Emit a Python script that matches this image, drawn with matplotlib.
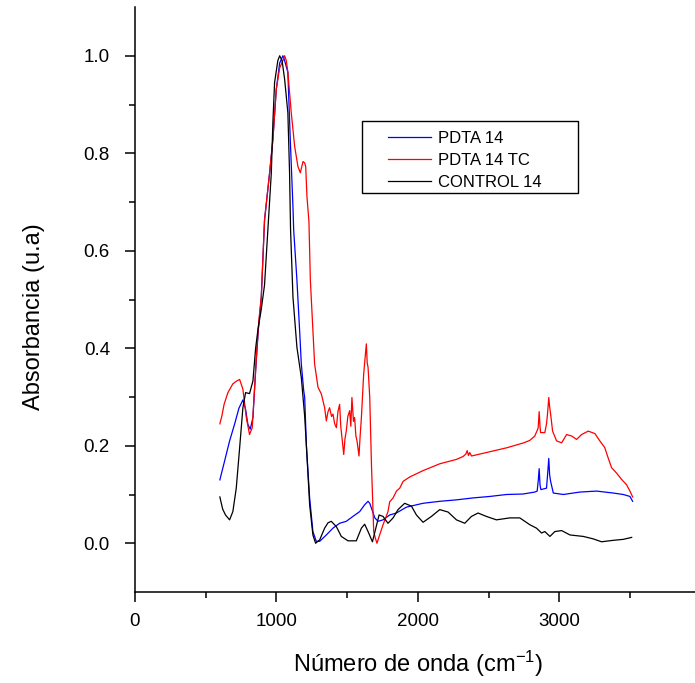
import matplotlib

matplotlib.use("Agg")
import matplotlib.pyplot as plt
from matplotlib.patches import Rectangle
from matplotlib.ticker import FixedLocator, FormatStrFormatter

plt.rcParams["font.family"] = ["Liberation Sans", "DejaVu Sans"]
plt.rcParams["mathtext.fontset"] = "custom"
plt.rcParams["mathtext.rm"] = "Liberation Sans"
plt.rcParams["mathtext.it"] = "Liberation Sans:italic"

# wavenumber (cm-1) / absorbance
pdta_x = [600, 633, 669, 704, 735, 763, 782, 798, 815, 834, 853, 872, 893, 916, 952, 975,
          999, 1023, 1046, 1058, 1081, 1098, 1117, 1122, 1145, 1164, 1176, 1193, 1200, 1212,
          1235, 1258, 1282, 1306, 1353, 1400, 1447, 1494, 1541, 1589, 1624, 1648, 1660, 1672,
          1696, 1719, 1754, 1801, 1848, 1919, 2037, 2155, 2273, 2391, 2509, 2627, 2744, 2827,
          2844, 2852, 2858, 2864, 2870, 2910, 2920, 2926, 2932, 2939, 2958, 3029, 3146, 3264,
          3382, 3453, 3500, 3519]
pdta_y = [0.130, 0.168, 0.210, 0.244, 0.277, 0.294, 0.275, 0.244, 0.234, 0.258, 0.354, 0.437,
          0.505, 0.663, 0.760, 0.828, 0.931, 0.985, 1.000, 0.990, 0.966, 0.828, 0.690, 0.643,
          0.540, 0.437, 0.368, 0.313, 0.299, 0.200, 0.093, 0.024, 0.004, 0.004, 0.017, 0.031,
          0.041, 0.045, 0.055, 0.065, 0.079, 0.086, 0.082, 0.072, 0.052, 0.045, 0.048, 0.058,
          0.062, 0.074, 0.082, 0.086, 0.089, 0.093, 0.096, 0.100, 0.101, 0.105, 0.107, 0.130,
          0.153, 0.120, 0.110, 0.113, 0.150, 0.174, 0.140, 0.127, 0.103, 0.100, 0.105, 0.107,
          0.103, 0.100, 0.096, 0.086]

pdta_tc_x = [600, 615, 630, 657, 692, 720, 740, 763, 787, 810, 829, 846, 862, 876, 893, 916,
             952, 975, 999, 1023, 1046, 1058, 1070, 1081, 1105, 1129, 1152, 1169, 1188, 1200,
             1207, 1216, 1230, 1240, 1258, 1270, 1294, 1318, 1341, 1353, 1365, 1376, 1390, 1400,
             1412, 1424, 1435, 1447, 1455, 1466, 1476, 1485, 1494, 1505, 1518, 1526, 1534, 1545,
             1553, 1562, 1570, 1584, 1592, 1601, 1617, 1630, 1636, 1642, 1648, 1660, 1672, 1688,
             1700, 1711, 1730, 1754, 1770, 1789, 1801, 1825, 1849, 1872, 1896, 1943, 2037, 2155,
             2273, 2320, 2340, 2349, 2358, 2367, 2380, 2513, 2631, 2749, 2792, 2827, 2845, 2851,
             2858, 2864, 2868, 2898, 2910, 2917, 2926, 2932, 2939, 2953, 2981, 3017, 3052, 3088,
             3123, 3158, 3205, 3252, 3287, 3322, 3346, 3370, 3405, 3441, 3476, 3500, 3519]
pdta_tc_y = [0.245, 0.262, 0.285, 0.309, 0.327, 0.333, 0.336, 0.316, 0.258, 0.223, 0.237, 0.320,
             0.400, 0.457, 0.505, 0.663, 0.760, 0.828, 0.931, 0.975, 0.990, 1.000, 0.990, 0.966,
             0.883, 0.814, 0.773, 0.760, 0.783, 0.780, 0.773, 0.711, 0.660, 0.540, 0.437, 0.368,
             0.320, 0.306, 0.278, 0.251, 0.270, 0.278, 0.260, 0.265, 0.245, 0.237, 0.270, 0.285,
             0.240, 0.210, 0.182, 0.215, 0.230, 0.260, 0.272, 0.240, 0.299, 0.250, 0.258, 0.220,
             0.210, 0.179, 0.220, 0.258, 0.347, 0.390, 0.409, 0.370, 0.361, 0.299, 0.162, 0.024,
             0.010, 0.000, 0.017, 0.038, 0.050, 0.065, 0.085, 0.093, 0.107, 0.113, 0.127, 0.136,
             0.149, 0.163, 0.172, 0.178, 0.183, 0.190, 0.180, 0.186, 0.179, 0.188, 0.196, 0.206,
             0.211, 0.220, 0.232, 0.237, 0.270, 0.240, 0.227, 0.227, 0.245, 0.265, 0.299, 0.280,
             0.265, 0.230, 0.210, 0.206, 0.223, 0.220, 0.213, 0.223, 0.230, 0.225, 0.210, 0.196,
             0.175, 0.155, 0.144, 0.131, 0.120, 0.107, 0.095]

control_x = [600, 620, 640, 669, 692, 716, 740, 763, 782, 810, 834, 853, 870, 893, 916, 940,
             964, 975, 987, 1010, 1023, 1040, 1058, 1081, 1093, 1100, 1117, 1145, 1176, 1200,
             1212, 1235, 1258, 1277, 1306, 1341, 1365, 1388, 1424, 1459, 1506, 1565, 1601, 1624,
             1648, 1679, 1703, 1726, 1754, 1789, 1825, 1860, 1907, 1955, 1990, 2037, 2096, 2155,
             2214, 2273, 2332, 2379, 2426, 2485, 2556, 2650, 2721, 2792, 2839, 2875, 2898, 2934,
             2969, 3017, 3076, 3170, 3240, 3299, 3382, 3453, 3512]
control_y = [0.095, 0.070, 0.058, 0.048, 0.065, 0.113, 0.196, 0.278, 0.309, 0.307, 0.333, 0.400,
             0.440, 0.480, 0.530, 0.645, 0.760, 0.863, 0.945, 0.990, 1.000, 0.990, 0.952, 0.883,
             0.760, 0.643, 0.505, 0.402, 0.340, 0.260, 0.200, 0.079, 0.017, 0.000, 0.007, 0.031,
             0.042, 0.045, 0.034, 0.014, 0.005, 0.005, 0.031, 0.039, 0.024, 0.003, 0.031, 0.058,
             0.055, 0.041, 0.052, 0.069, 0.082, 0.076, 0.058, 0.043, 0.055, 0.069, 0.064, 0.048,
             0.041, 0.055, 0.062, 0.055, 0.048, 0.052, 0.052, 0.038, 0.031, 0.021, 0.024, 0.014,
             0.024, 0.026, 0.017, 0.014, 0.009, 0.003, 0.006, 0.008, 0.012]

series = [
    ("PDTA 14", pdta_x, pdta_y, "#0000ff"),
    ("PDTA 14 TC", pdta_tc_x, pdta_tc_y, "#ff0000"),
    ("CONTROL 14", control_x, control_y, "#000000"),
]

W, H = 695, 683


def main() -> None:
    fig = plt.figure(figsize=(W / 100, H / 100), dpi=100)
    ax = fig.add_axes([135 / W, 91 / H, 560 / W, 585 / H])

    for label, x, y, color in series:
        ax.plot(x, y, color=color, lw=0.9, label=label)

    ax.set_xlim(0, 3960)
    ax.set_ylim(-0.1, 1.1)
    ax.xaxis.set_major_locator(FixedLocator([0, 1000, 2000, 3000]))
    ax.xaxis.set_minor_locator(FixedLocator([500, 1500, 2500, 3500]))
    ax.yaxis.set_major_locator(FixedLocator([0.0, 0.2, 0.4, 0.6, 0.8, 1.0]))
    ax.yaxis.set_minor_locator(FixedLocator([0.1, 0.3, 0.5, 0.7, 0.9]))
    ax.yaxis.set_major_formatter(FormatStrFormatter("%.1f"))

    for side in ("top", "right"):
        ax.spines[side].set_visible(False)
    for side in ("left", "bottom"):
        ax.spines[side].set_linewidth(1.1)
    ax.tick_params(which="major", direction="out", length=7, width=1.1, labelsize=13.5)
    ax.tick_params(which="minor", direction="out", length=4, width=1.1)
    ax.tick_params(axis="x", which="major", pad=8)
    ax.tick_params(axis="y", which="major", pad=11)

    ax.set_xlabel("Número de onda (cm$^{\\mathrm{-1}}$)", fontsize=17)
    ax.xaxis.set_label_coords(0.505, -0.097)
    ax.set_ylabel("Absorbancia (u.a)", fontsize=17)
    ax.yaxis.set_label_coords(-0.161, 0.47)

    # legend text without frame, frame drawn as a plain box around it
    ax.legend(loc="upper left", bbox_to_anchor=(388 / W, 1 - 131 / H),
              bbox_transform=fig.transFigure, fontsize=12, frameon=False,
              borderpad=0, borderaxespad=0, handlelength=2.6, handletextpad=0.4,
              labelspacing=0.42)
    fig.add_artist(Rectangle((362 / W, 1 - 193 / H), 216 / W, 72 / H,
                             transform=fig.transFigure, fill=False,
                             edgecolor="black", lw=1.0))

    fig.savefig("out.png", dpi=100)
    plt.close(fig)


if __name__ == "__main__":
    main()
